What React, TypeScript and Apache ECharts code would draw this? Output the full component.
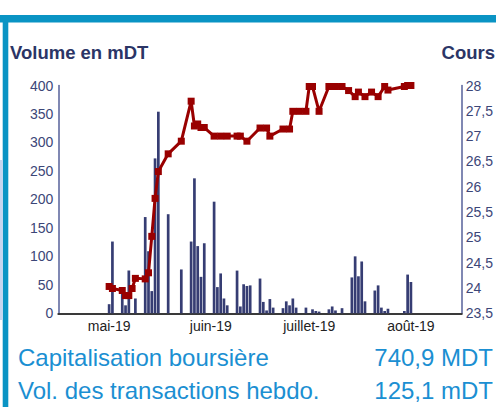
import React, { useEffect, useRef } from "react";
import * as echarts from "echarts";

// Day axis: daily categories starting 16 April 2019 (123 days)
const startDate = "2019-04-16";
const dayCount = 123;

// Month tick labels and their day index on the axis
const monthLabels = ["mai-19", "juin-19", "juillet-19", "août-19"];
const monthTickDays = [15, 46, 76, 107];

// Volume en mDT (bars): day index and value
const volumeDays = [15, 16, 19, 20, 21, 23, 26, 27, 28, 29, 30, 33, 37, 40, 41, 42, 43, 44, 47, 48, 49, 50, 51, 54, 55, 56, 57, 58, 61, 62, 63, 64, 65, 68, 69, 70, 71, 72, 75, 77, 78, 79, 82, 83, 84, 86, 89, 90, 91, 92, 93, 96, 97, 98, 99, 100, 105, 106, 107];
const volumeValues = [16, 126, 44, 14, 75, 26, 169, 109, 39, 272, 354, 174, 77, 126, 237, 118, 64, 123, 196, 46, 70, 26, 14, 75, 12, 51, 48, 49, 61, 20, 5, 25, 10, 9, 21, 14, 26, 10, 10, 7, 4, 3, 7, 12, 5, 9, 63, 100, 65, 91, 21, 40, 49, 10, 4, 8, 4, 68, 55];

// Cours (line): day index and value
const priceDays = [15, 16, 19, 20, 21, 22, 23, 26, 27, 28, 29, 30, 33, 37, 40, 41, 42, 43, 44, 47, 49, 51, 54, 55, 57, 61, 63, 64, 68, 70, 71, 73, 75, 76, 77, 79, 82, 84, 86, 88, 90, 91, 93, 95, 97, 99, 100, 105, 106, 107];
const priceValues = [24.03, 23.99, 23.95, 23.85, 23.85, 23.99, 24.19, 24.18, 24.3, 25.02, 25.77, 26.3, 26.65, 26.9, 27.69, 27.2, 27.24, 27.17, 27.17, 27.0, 27.0, 27.0, 27.0, 27.0, 26.9, 27.16, 27.16, 27.0, 27.14, 27.14, 27.49, 27.49, 27.49, 27.98, 27.98, 27.49, 27.98, 27.98, 27.98, 27.9, 27.78, 27.87, 27.78, 27.87, 27.78, 27.98, 27.91, 27.98, 28.0, 28.0];

// Summary texts
const summaryLabels = ["Capitalisation boursière", "Vol. des transactions hebdo."];
const summaryValues = ["740,9 MDT", "125,1 mDT"];
const leftAxisTitle = "Volume en mDT";
const rightAxisTitle = "Cours";

function buildCategories(): string[] {
  const out: string[] = [];
  const d0 = new Date(startDate + "T00:00:00Z");
  for (let i = 0; i < dayCount; i++) {
    const d = new Date(d0.getTime() + i * 86400000);
    out.push(d.toISOString().slice(0, 10));
  }
  return out;
}

function spread(days: number[], values: number[]): (number | null)[] {
  const arr: (number | null)[] = new Array(dayCount).fill(null);
  days.forEach((d, i) => {
    arr[d] = values[i];
  });
  return arr;
}

export default function App() {
  const ref = useRef<HTMLDivElement>(null);
  useEffect(() => {
    if (!ref.current) return;
    const chart = echarts.init(ref.current, undefined, { renderer: "svg" });
    const categories = buildCategories();
    const font = "Liberation Sans, Arial, sans-serif";
    const tickColor = "#3c4678";
    const titleColor = "#2b3566";
    const blue = "#0a94c4";
    const textBlue = "#1b8fd2";
    chart.setOption({
      animation: false,
      grid: { left: 58.3, right: 33.5, top: 85.5, bottom: 93.7, containLabel: false },
      xAxis: {
        type: "category",
        data: categories,
        boundaryGap: true,
        axisLine: { show: true, lineStyle: { color: "#3a3a3a", width: 2 } },
        axisTick: { show: false },
        splitLine: { show: false },
        axisLabel: {
          interval: (index: number) => monthTickDays.indexOf(index) >= 0,
          formatter: (_v: string, index: number) => {
            const k = monthTickDays.indexOf(index);
            return k >= 0 ? monthLabels[k] : "";
          },
          color: "#222",
          fontFamily: font,
          fontSize: 14,
          margin: 6,
        },
      },
      yAxis: [
        {
          type: "value",
          min: 0,
          max: 400,
          interval: 50,
          axisLine: { show: true, lineStyle: { color: "#56609a", width: 1.5 } },
          axisTick: { show: false },
          splitLine: { show: false },
          axisLabel: { color: tickColor, fontFamily: font, fontSize: 14, margin: 5 },
        },
        {
          type: "value",
          min: 23.5,
          max: 28,
          interval: 0.5,
          position: "right",
          axisLine: { show: true, lineStyle: { color: "#56609a", width: 1.5 } },
          axisTick: { show: false },
          splitLine: { show: false },
          axisLabel: {
            color: tickColor,
            fontFamily: font,
            fontSize: 14,
            margin: 4,
            formatter: (v: number) => String(v).replace(".", ","),
          },
        },
      ],
      series: [
        {
          type: "bar",
          yAxisIndex: 0,
          data: spread(volumeDays, volumeValues),
          barWidth: 2.7,
          itemStyle: { color: "#363d73" },
          z: 2,
        },
        {
          type: "line",
          yAxisIndex: 1,
          data: spread(priceDays, priceValues),
          connectNulls: true,
          symbol: "rect",
          symbolSize: 7,
          showSymbol: true,
          showAllSymbol: true,
          lineStyle: { color: "#990000", width: 3 },
          itemStyle: { color: "#990000" },
          z: 3,
        },
      ],
      graphic: [
        { type: "rect", shape: { x: 0, y: 15, width: 496, height: 7.5 }, style: { fill: blue }, z: 10 },
        { type: "rect", shape: { x: 2.7, y: 15, width: 5.6, height: 392 }, style: { fill: blue }, z: 10 },
        { type: "rect", shape: { x: 0, y: 160, width: 2.7, height: 160 }, style: { fill: "#c6d5ef" }, z: 10 },
        {
          type: "text",
          x: 10,
          y: 52.7,
          style: { text: leftAxisTitle, fill: titleColor, font: `bold 18.5px ${font}`, textAlign: "left", textVerticalAlign: "middle" },
        },
        {
          type: "text",
          x: 495,
          y: 52.7,
          style: { text: rightAxisTitle, fill: titleColor, font: `bold 18.5px ${font}`, textAlign: "right", textVerticalAlign: "middle" },
        },
        {
          type: "text",
          x: 18,
          y: 357.5,
          style: { text: summaryLabels[0], fill: textBlue, font: `24px ${font}`, textAlign: "left", textVerticalAlign: "middle" },
        },
        {
          type: "text",
          x: 493,
          y: 357.5,
          style: { text: summaryValues[0], fill: textBlue, font: `24px ${font}`, textAlign: "right", textVerticalAlign: "middle" },
        },
        {
          type: "text",
          x: 18,
          y: 390,
          style: { text: summaryLabels[1], fill: textBlue, font: `24px ${font}`, textAlign: "left", textVerticalAlign: "middle" },
        },
        {
          type: "text",
          x: 493,
          y: 390,
          style: { text: summaryValues[1], fill: textBlue, font: `24px ${font}`, textAlign: "right", textVerticalAlign: "middle" },
        },
      ],
    });
    return () => chart.dispose();
  }, []);
  return (
    <div
      ref={ref}
      style={{ position: "fixed", left: 0, top: 0, width: 496, height: 407, background: "#fff" }}
    />
  );
}
